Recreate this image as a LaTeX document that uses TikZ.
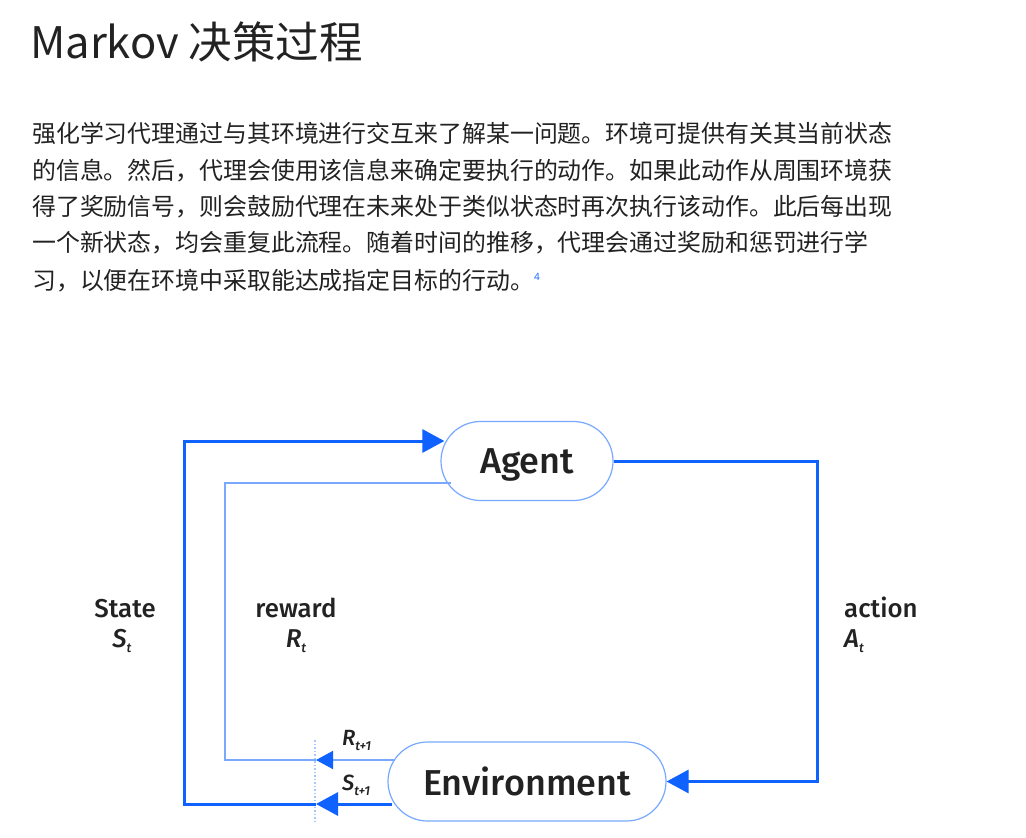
\documentclass[tikz,border=0pt]{standalone}
\usepackage{fontspec}
\setmainfont{Open Sans}
\newfontfamily\medfont{Fira Sans}[UprightFont={* Medium}, ItalicFont={* Medium Italic}]
\newfontfamily\cjk{Noto Sans CJK SC}
\usetikzlibrary{arrows.meta,shapes.misc,calc}
\definecolor{ibmblue}{HTML}{0F62FE}
\definecolor{lightblue}{HTML}{78A9FF}
\definecolor{dotblue}{HTML}{A6C8FF}
\definecolor{ink}{HTML}{222222}
\tikzset{
  pill/.style={rounded rectangle, draw=lightblue, line width=1.2pt, fill=white, text=ink,
    font=\medfont\fontsize{36}{39}\selectfont, inner sep=0pt, text depth=0pt},
  bigline/.style={draw=ibmblue, line width=3pt},
  thinline/.style={draw=lightblue, line width=1.6pt},
  bigtip/.style={-{Triangle[length=22pt,width=23pt]}},
  para/.style={anchor=base west, inner sep=0pt, text=ink, font=\cjk\fontsize{23.9}{26}\selectfont},
  lab/.style={inner sep=0pt, text=ink, font=\medfont\fontsize{25.8}{27}\selectfont},
  sublabel/.style={lab, anchor=base west, font=\medfont\fontsize{22}{24}\selectfont},
}
\newcommand{\sublab}[2]{{\itshape #1}\raisebox{-5pt}{\fontsize{13}{13}\selectfont\itshape #2}}
\begin{document}
\begin{tikzpicture}[x=1pt,y=-1pt]
\useasboundingbox[fill=white] (0,0) rectangle (1026,838);
% title
\node[anchor=base west, inner sep=0pt, text=ink, font=\cjk\fontsize{43.5}{48}\selectfont] (title) at (30,58) {Markov 决策过程};
% paragraph
\node[para] (p1) at (32,142) {强化学习代理通过与其环境进行交互来了解某一问题。环境可提供有关其当前状态};
\node[para] (p2) at (32,179) {的信息。然后，代理会使用该信息来确定要执行的动作。如果此动作从周围环境获};
\node[para] (p3) at (32,215) {得了奖励信号，则会鼓励代理在未来处于类似状态时再次执行该动作。此后每出现};
\node[para] (p4) at (32,251) {一个新状态，均会重复此流程。随着时间的推移，代理会通过奖励和惩罚进行学};
\node[para] (p5) at (32,289) {习，以便在环境中采取能达成指定目标的行动。};
\node[anchor=base west, inner sep=0pt, text=ibmblue, font=\fontsize{10}{10}\selectfont] (fn) at (534,280) {4};
% nodes
\node[pill, minimum width=172pt, minimum height=79pt] (agent) at (527,461) {Agent};
\node[pill, minimum width=278pt, minimum height=79pt] (env) at (527,781.5) {Environment};
% coordinates
\coordinate (sEnv) at ($(env.west)+(5,22.5)$);
\coordinate (sArr) at (316,804);
\coordinate (sBL) at (184,804);
\coordinate (sTL) at (184,441);
\coordinate (sAg) at ($(agent.west)+(4,-20)$);
\coordinate (rEnv) at ($(env.west)+(8,-21.5)$);
\coordinate (rArr) at (316,760);
\coordinate (rBL) at (225,760);
\coordinate (rTL) at (225,483);
\coordinate (rAg) at ($(agent.west)+(11,22)$);
\coordinate (aR) at (817,600);
\coordinate (d1) at (315,740);
\coordinate (d2) at (315,822);
% dotted marker
\draw[dotblue, line width=1.5pt, dotted] (d1) -- (d2);
% state loop
\draw[bigline, bigtip] (sEnv) -- (sArr);
\draw[bigline, bigtip] (sArr) -- (sBL) -- (sTL) -- (sAg);
% reward loop
\draw[thinline] (rArr) -- (rBL) -- (rTL) -- (rAg);
\draw[thinline, -{Triangle[length=17pt,width=18pt,color=ibmblue]}] (rEnv) -- (rArr);
% action
\draw[bigline, bigtip] (agent.east) -- (agent.east -| aR) -- (env.east -| aR) -- (env.east);
% labels
\node[lab, anchor=base] (lstate) at (125,617) {State};
\node[lab, anchor=base] (lst) at (122,647) {\sublab{S}{t}};
\node[lab, anchor=base] (lreward) at (296,617) {reward};
\node[lab, anchor=base] (lrt) at (296,647) {\sublab{R}{t}};
\node[lab, anchor=base west] (laction) at (844,617) {action};
\node[lab, anchor=base west] (lat) at (844,647) {\sublab{A}{t}};
\node[sublabel] (lrt1) at (342,745) {\sublab{R}{t+1}};
\node[sublabel] (lst1) at (342,790) {\sublab{S}{t+1}};
\end{tikzpicture}
\end{document}
